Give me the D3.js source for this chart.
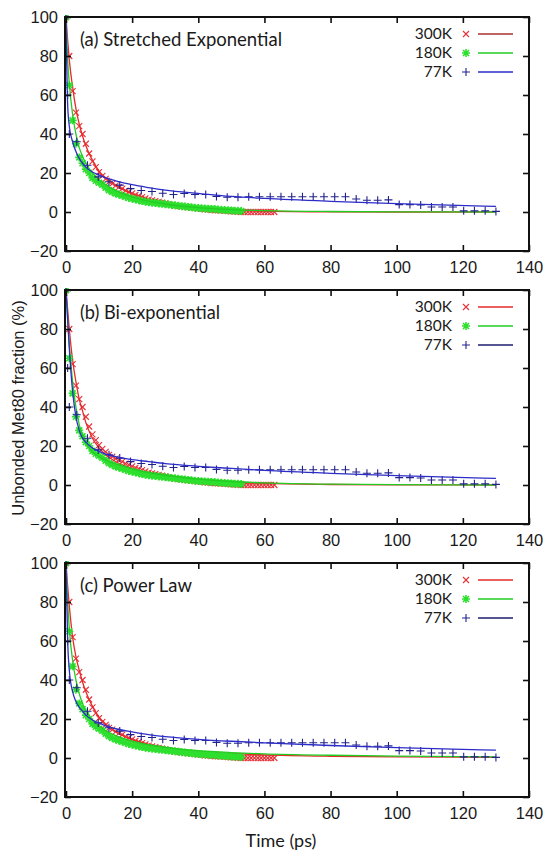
<!DOCTYPE html>
<html>
<head>
<meta charset="utf-8">
<script src="https://cdn.jsdelivr.net/npm/d3@7"></script>
<style>
  body { margin: 0; background: #fff; }
  svg { display: block; }
</style>
</head>
<body>
<div id="chart"></div>
<script>
// Panel titles and series names
const panelTitles = ["(a) Stretched Exponential", "(b) Bi-exponential", "(c) Power Law"];
const titleWidths = [202, 140, 112];
const seriesNames = ["300K", "180K", "77K"];
const xTicks = [0, 20, 40, 60, 80, 100, 120, 140];
const yTicks = [-20, 0, 20, 40, 60, 80, 100];

// Simulation points (same in all panels)
const t300 = d3.range(0, 64);
const v300 = [100, 80, 62, 51, 44, 40, 35, 30, 26, 23, 20.5, 18.5, 17, 15.5, 14.5, 13.5, 12.8, 12, 11, 10.3,
  9.6, 8.8, 8.2, 7.6, 7, 6.4, 6, 5.6, 5.2, 4.8, 4.4, 4, 3.6, 3.2, 3, 2.8, 2.6, 2.4, 2.2, 2,
  1.8, 1.6, 1.4, 1.2, 1, 0.9, 0.8, 0.7, 0.6, 0.5, 0.3, 0.2, 0.1, 0, 0, 0, 0, 0, 0, 0,
  0, 0, 0, 0];
const t180 = d3.range(0, 54);
const v180 = [100, 65, 47, 35, 28, 25, 22, 20, 17.5, 16, 15, 14, 12.5, 11.2, 10.3, 9.5, 9, 8.4, 7.8, 7.2,
  6.8, 6.4, 6, 5.6, 5.3, 5, 4.8, 4.6, 4.4, 4.2, 4, 3.8, 3.6, 3.4, 3.2, 3, 2.8, 2.6, 2.4, 2.2,
  2, 1.9, 1.8, 1.7, 1.6, 1.5, 1.3, 1.1, 1, 0.9, 0.8, 0.7, 0.6, 0.5];
const t77 = [0, 0.5, 1, 3.25, 6.5, 9.75, 13, 16.25, 19.5, 22.75, 26, 29.25, 32.5, 35.75, 39, 42.25, 45.5,
  48.75, 52, 55.25, 58.5, 61.75, 65, 68.25, 71.5, 74.75, 78, 81.25, 84.5, 87.75, 91, 94.25,
  97.5, 100.75, 104, 107.25, 110.5, 113.75, 117, 120.25, 123.5, 126.75, 130];
const v77 = [100, 60, 40, 36, 24, 18, 15.5, 13.8, 12, 11, 10.5, 9.6, 9, 9.5, 9, 9, 8, 7.6, 7.6, 7.8,
  7.8, 7.8, 7.8, 7.8, 7.8, 7.8, 7.8, 7.8, 7.8, 6.7, 6, 6, 6.2, 3.8, 3.8, 3.6, 2.6, 2.6, 2.6,
  0.6, 0.6, 0.6, 0.3];

// Fitted curves, read at these times
const fitT = [0, 0.5, 1, 2, 3, 4, 5, 6, 8, 10, 12, 15, 20, 25, 30, 40, 50, 60, 80, 100, 130];
const fitA300 = [100, 88, 78, 64, 53, 45, 39, 34, 26.5, 21, 17.5, 13.8, 9.3, 6.5, 4.5, 2.3, 1.1, 0.5, 0.1, 0, 0];
const fitA180 = [100, 78, 66, 50, 40, 33, 28.5, 25, 20, 16.5, 14, 11, 7.8, 5.6, 4.1, 2.2, 1.2, 0.7, 0.25, 0.1, 0];
const fitA77 = [100, 55, 44, 36, 31, 27.5, 25, 23, 20.5, 19, 17.5, 16, 14, 12.5, 11.2, 9.5, 8, 7, 5.5, 4.3, 2.9];
const fitB300 = [100, 90, 80, 64, 53, 44, 38, 32, 24, 19, 15.5, 12, 8.4, 6.2, 4.6, 2.5, 1.4, 0.8, 0.25, 0.1, 0];
const fitB180 = [100, 85, 72, 53, 40, 31, 25.5, 21.5, 17, 14.5, 12.8, 10.8, 8.3, 6.4, 5, 3, 1.8, 1.1, 0.4, 0.15, 0];
const fitB77 = [100, 85, 70, 48, 35, 28, 24, 22, 19, 17.2, 15.8, 14.6, 13, 12, 11, 9.6, 8.5, 7.5, 6, 4.8, 3.4];
const fitC300 = [100, 88, 78, 62, 52, 45, 39, 34, 26.5, 21, 17.5, 13.5, 9.5, 7, 5.4, 3.4, 2.3, 1.6, 0.9, 0.6, 0.3];
const fitC180 = [100, 80, 66, 50, 40, 33, 28, 24.5, 19.5, 16.5, 14, 11.5, 8.6, 6.8, 5.5, 3.8, 2.8, 2.1, 1.4, 1, 0.6];
const fitC77 = [100, 60, 45, 34, 29, 26, 24, 22, 19.5, 18, 16.5, 15, 13.4, 12, 11, 9.6, 8.6, 7.8, 6.4, 5.3, 4];

const fits = [[fitA300, fitA180, fitA77], [fitB300, fitB180, fitB77], [fitC300, fitC180, fitC77]];
const points = [[t300, v300], [t180, v180], [t77, v77]];

// Setup
const width = 547, height = 851;
const left = 65, right = 529;
const panelTops = [17, 290, 563];
const panelH = 234;

const pointColors = ["#e5333a", "#2ee02e", "#22228c"];
const lineColors = ["#e62a2a", "#22cc22", "#2c2cc8"];
const legendLineColors = [["#a8302c", "#22cc22", "#2c2cc8"], ["#e62a2a", "#22cc22", "#1c1c70"], ["#e62a2a", "#22cc22", "#1c1c70"]];
const markers = [
  "M-3,-3L3,3M-3,3L3,-3",
  "M-3,-3L3,3M-3,3L3,-3M-4,0H4M0,-4V4",
  "M-4,0H4M0,-4V4"
];

const svg = d3.select("#chart").append("svg")
  .attr("width", width)
  .attr("height", height);

const x = d3.scaleLinear().domain([0, 140]).range([left + 1, right]);

panelTitles.forEach((title, p) => {
  const top = panelTops[p];
  const y = d3.scaleLinear().domain([-20, 100]).range([top + panelH, top]);
  const g = svg.append("g");

  const clip = "clip" + p;
  g.append("clipPath").attr("id", clip)
    .append("rect").attr("x", left).attr("y", top - 2)
    .attr("width", right - left).attr("height", panelH + 2);

  const line = d3.line()
    .x((d, i) => x(fitT[i]))
    .y(d => y(d))
    .curve(d3.curveMonotoneX);

  const plot = g.append("g").attr("clip-path", `url(#${clip})`);

  seriesNames.forEach((name, s) => {
    const [ts, vs] = points[s];
    plot.append("g").selectAll("path")
      .data(vs)
      .join("path")
      .attr("transform", (d, i) => `translate(${x(ts[i])},${y(d)})`)
      .attr("d", markers[s])
      .attr("fill", "none")
      .attr("stroke", pointColors[s])
      .attr("stroke-width", s === 1 ? 1.6 : 1.1);

    plot.append("path")
      .datum(fits[p][s])
      .attr("d", line)
      .attr("fill", "none")
      .attr("stroke", lineColors[s])
      .attr("stroke-width", 1.3);
  });

  // Axes (ticks inside the frame, gnuplot style)
  g.append("g")
    .attr("transform", `translate(0,${top + panelH})`)
    .call(d3.axisBottom(x).tickValues(xTicks).tickSize(-6).tickPadding(10))
    .call(a => a.select(".domain").remove());
  g.append("g")
    .attr("transform", `translate(0,${top})`)
    .call(d3.axisTop(x).tickValues(xTicks).tickSize(-6).tickFormat(""))
    .call(a => a.select(".domain").remove());
  g.append("g")
    .attr("transform", `translate(${left},0)`)
    .call(d3.axisLeft(y).tickValues(yTicks).tickSize(-6).tickPadding(7))
    .call(a => a.select(".domain").remove());
  g.append("g")
    .attr("transform", `translate(${right},0)`)
    .call(d3.axisRight(y).tickValues(yTicks).tickSize(-6).tickFormat(""))
    .call(a => a.select(".domain").remove());

  g.selectAll(".tick line").attr("stroke", "#111").attr("stroke-width", 1.6);
  g.selectAll(".tick text")
    .attr("font-family", "Liberation Sans, Arial, sans-serif")
    .attr("font-size", 16.5)
    .attr("fill", "#1a1a1a");

  g.append("rect")
    .attr("x", left).attr("y", top)
    .attr("width", right - left).attr("height", panelH)
    .attr("fill", "none")
    .attr("stroke", "#111")
    .attr("stroke-width", 2);

  g.append("text")
    .attr("x", 80).attr("y", top + 29)
    .attr("font-family", "Lato, sans-serif")
    .attr("font-size", 18.5)
    .attr("textLength", titleWidths[p])
    .attr("lengthAdjust", "spacingAndGlyphs")
    .attr("fill", "#1a1a1a")
    .text(title);

  // Legend
  const leg = g.append("g").attr("transform", `translate(0,${top + 17})`);
  seriesNames.forEach((name, s) => {
    const ly = s * 19;
    leg.append("text")
      .attr("x", 452).attr("y", ly).attr("dy", "0.35em")
      .attr("text-anchor", "end")
      .attr("font-family", "Lato, sans-serif")
      .attr("font-size", 15.5)
      .attr("fill", "#1a1a1a")
      .text(name);
    leg.append("path")
      .attr("transform", `translate(466,${ly})`)
      .attr("d", markers[s])
      .attr("fill", "none")
      .attr("stroke", pointColors[s])
      .attr("stroke-width", s === 1 ? 1.6 : 1.1);
    leg.append("line")
      .attr("x1", 478).attr("x2", 513)
      .attr("y1", ly).attr("y2", ly)
      .attr("stroke", legendLineColors[p][s])
      .attr("stroke-width", 1.3);
  });
});

// Axis titles
svg.append("text")
  .attr("x", 281).attr("y", 847)
  .attr("text-anchor", "middle")
  .attr("font-family", "Lato, sans-serif")
  .attr("font-size", 18)
  .attr("fill", "#1a1a1a")
  .text("Time (ps)");

svg.append("text")
  .attr("transform", "translate(24,408) rotate(-90)")
  .attr("text-anchor", "middle")
  .attr("font-family", "Liberation Sans, Arial, sans-serif")
  .attr("font-size", 16.5)
  .attr("fill", "#1a1a1a")
  .text("Unbonded Met80 fraction (%)");
</script>
</body>
</html>
